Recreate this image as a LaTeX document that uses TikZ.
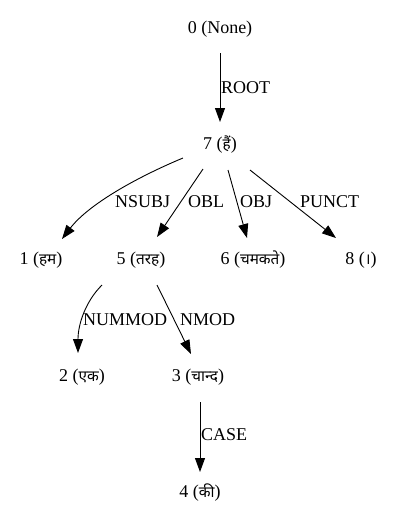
\documentclass[tikz,border=0pt]{standalone}
\usepackage{fontspec}
\setmainfont{Liberation Serif}
\newfontfamily\deva[Script=Devanagari,Scale=0.85]{Noto Sans}
\usetikzlibrary{arrows.meta}

\begin{document}
\begin{tikzpicture}[x=1pt,y=-1pt,
  tok/.style={anchor=base,inner sep=0pt,font=\fontsize{18}{21}\selectfont},
  rel/.style={anchor=base west,inner sep=0pt,font=\fontsize{18}{21}\selectfont},
  dep/.style={-{Triangle[length=14pt,width=10pt]},line width=0.9pt}]
\useasboundingbox (0,0) rectangle (405,523);

% words
\node[tok] (n0) at (220,33) {0 (None)};
\node[tok] (n7) at (220,149) {7 ({\deva हैं})};
\node[tok] (n1) at (41,264) {1 ({\deva हम})};
\node[tok] (n5) at (141,264) {5 ({\deva तरह})};
\node[tok] (n6) at (253,264) {6 ({\deva चमकते})};
\node[tok] (n8) at (361,264) {8 ({\deva ।})};
\node[tok] (n2) at (82,381) {2 ({\deva एक})};
\node[tok] (n3) at (198,381) {3 ({\deva चान्द})};
\node[tok] (n4) at (200,497) {4 ({\deva की})};

% arcs
\draw[dep] ([shift={(0,20)}]n0.base) -- ([shift={(0,-27)}]n7.base);
\node[rel] (lroot) at (221,93) {ROOT};

\draw[dep] ([shift={(-37,9)}]n7.base) .. controls (135,178) and (88,205) .. ([shift={(21,-25)}]n1.base);
\node[rel] (lnsubj) at (115,207) {NSUBJ};

\draw[dep] ([shift={(-17,20)}]n7.base) -- ([shift={(16,-27)}]n5.base);
\node[rel] (lobl) at (188,207) {OBL};

\draw[dep] ([shift={(8,21)}]n7.base) -- ([shift={(-6,-26)}]n6.base);
\node[rel] (lobj) at (240,207) {OBJ};

\draw[dep] ([shift={(30,21)}]n7.base) -- ([shift={(-25,-26)}]n8.base);
\node[rel] (lpunct) at (300,207) {PUNCT};

\draw[dep] ([shift={(-39,21)}]n5.base) .. controls (85,302) and (78,325) .. ([shift={(-4,-28)}]n2.base);
\node[rel] (lnummod) at (83,325) {NUMMOD};

\draw[dep] ([shift={(16,21)}]n5.base) -- ([shift={(-7,-27)}]n3.base);
\node[rel] (lnmod) at (180,325) {NMOD};

\draw[dep] ([shift={(2,21)}]n3.base) -- ([shift={(0,-25)}]n4.base);
\node[rel] (lcase) at (201,440) {CASE};

\end{tikzpicture}
\end{document}
